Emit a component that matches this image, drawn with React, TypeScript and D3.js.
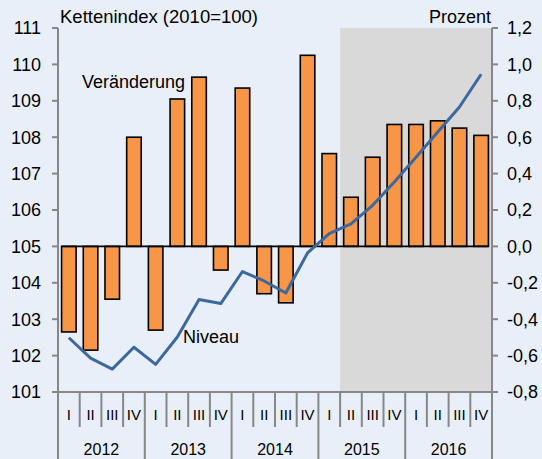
import React from "react";
import * as d3 from "d3";

const years = ["2012", "2013", "2014", "2015", "2016"];
const quarterNames = ["I", "II", "III", "IV"];
const periods = years.flatMap((y) => quarterNames.map((q) => `${y}-${q}`));
const veraenderung = [-0.47, -0.57, -0.29, 0.6, -0.46, 0.81, 0.93, -0.13, 0.87, -0.26, -0.31, 1.05, 0.51, 0.27, 0.49, 0.67, 0.67, 0.69, 0.65, 0.61];
const niveau = [102.49, 101.93, 101.63, 102.23, 101.76, 102.51, 103.54, 103.43, 104.31, 104.05, 103.72, 104.82, 105.35, 105.62, 106.13, 106.77, 107.45, 108.14, 108.83, 109.73];
const leftTicks = [101, 102, 103, 104, 105, 106, 107, 108, 109, 110, 111];
const rightTicks = [-0.8, -0.6, -0.4, -0.2, 0, 0.2, 0.4, 0.6, 0.8, 1.0, 1.2];
const forecastStart = 13;

const W = 542, H = 459;
const L = 58, R = 492, T = 28, B = 392;
const FONT = "'Liberation Sans', Arial, sans-serif";
const AXIS = "#878787";

export default function App() {
  const x = d3.scaleBand<string>().domain(periods).range([L, R]).paddingInner(0.33).paddingOuter(0.165);
  const step = (R - L) / periods.length;
  const yL = d3.scaleLinear().domain([101, 111]).range([B, T]);
  const yR = d3.scaleLinear().domain([-0.8, 1.2]).range([B, T]);
  const line = d3
    .line<number>()
    .x((_, i) => (x(periods[i]) as number) + x.bandwidth() / 2)
    .y((d) => yL(d));
  const fmt = (v: number) => d3.format(".1f")(v).replace(".", ",").replace("−", "-");
  const bw = x.bandwidth();
  const firstX = x(periods[0]) as number;
  const lastX = (x(periods[periods.length - 1]) as number) + bw;

  return (
    <svg width={W} height={H} style={{ position: "absolute", left: 0, top: 0 }} fontFamily={FONT}>
      <rect x={0} y={0} width={W} height={H} fill="#E9EFF8" />
      <rect x={L + forecastStart * step} y={T} width={R - (L + forecastStart * step)} height={B - T} fill="#D9D9D9" />
      {veraenderung.map((v, i) => (
        <rect
          key={i}
          x={x(periods[i]) as number}
          y={Math.min(yR(v), yR(0))}
          width={bw}
          height={Math.abs(yR(v) - yR(0))}
          fill="#F79646"
          stroke="#000"
          strokeWidth={1.6}
        />
      ))}
      <line x1={firstX} x2={lastX} y1={yR(0)} y2={yR(0)} stroke="#000" strokeWidth={1.6} />
      <path d={line(niveau) as string} fill="none" stroke="#3C68A0" strokeWidth={3} strokeLinejoin="round" />
      {/* axes */}
      <line x1={L} x2={L} y1={T} y2={H} stroke={AXIS} strokeWidth={2} />
      <line x1={R} x2={R} y1={T} y2={H} stroke={AXIS} strokeWidth={2} />
      <line x1={L - 6} x2={R} y1={B} y2={B} stroke={AXIS} strokeWidth={2} />
      {leftTicks.map((t) => (
        <g key={t}>
          <line x1={L - 6} x2={L} y1={yL(t)} y2={yL(t)} stroke={AXIS} strokeWidth={2} />
          <text x={41} y={yL(t)} dy="0.36em" textAnchor="end" fontSize={18} fill="#000">
            {t}
          </text>
        </g>
      ))}
      {rightTicks.map((t) => (
        <g key={t}>
          <line x1={R} x2={R + 6} y1={yR(t)} y2={yR(t)} stroke={AXIS} strokeWidth={2} />
          <text x={R + 15} y={yR(t)} dy="0.36em" textAnchor="start" fontSize={18} fill="#000">
            {fmt(t)}
          </text>
        </g>
      ))}
      {/* category axis */}
      {periods.map((p, i) => {
        const bx = L + i * step;
        const isYear = i % 4 === 0;
        return (
          <g key={p}>
            {i > 0 && (
              <line x1={bx} x2={bx} y1={B} y2={isYear ? H : 427} stroke={AXIS} strokeWidth={2} />
            )}
            <text x={bx + step / 2} y={415} dy="0.36em" textAnchor="middle" fontSize={15} fill="#000">
              {quarterNames[i % 4]}
            </text>
          </g>
        );
      })}
      {years.map((yv, j) => (
        <text key={yv} x={L + (j * 4 + 2) * step} y={449} dy="0.36em" textAnchor="middle" fontSize={16} fill="#000">
          {yv}
        </text>
      ))}
      <text x={60} y={23} fontSize={18.5} fill="#000">Kettenindex (2010=100)</text>
      <text x={R - 1} y={23} fontSize={18} textAnchor="end" fill="#000">Prozent</text>
      <text x={82} y={88} fontSize={18} fill="#000">Veränderung</text>
      <text x={183} y={343} fontSize={18} fill="#000">Niveau</text>
    </svg>
  );
}
